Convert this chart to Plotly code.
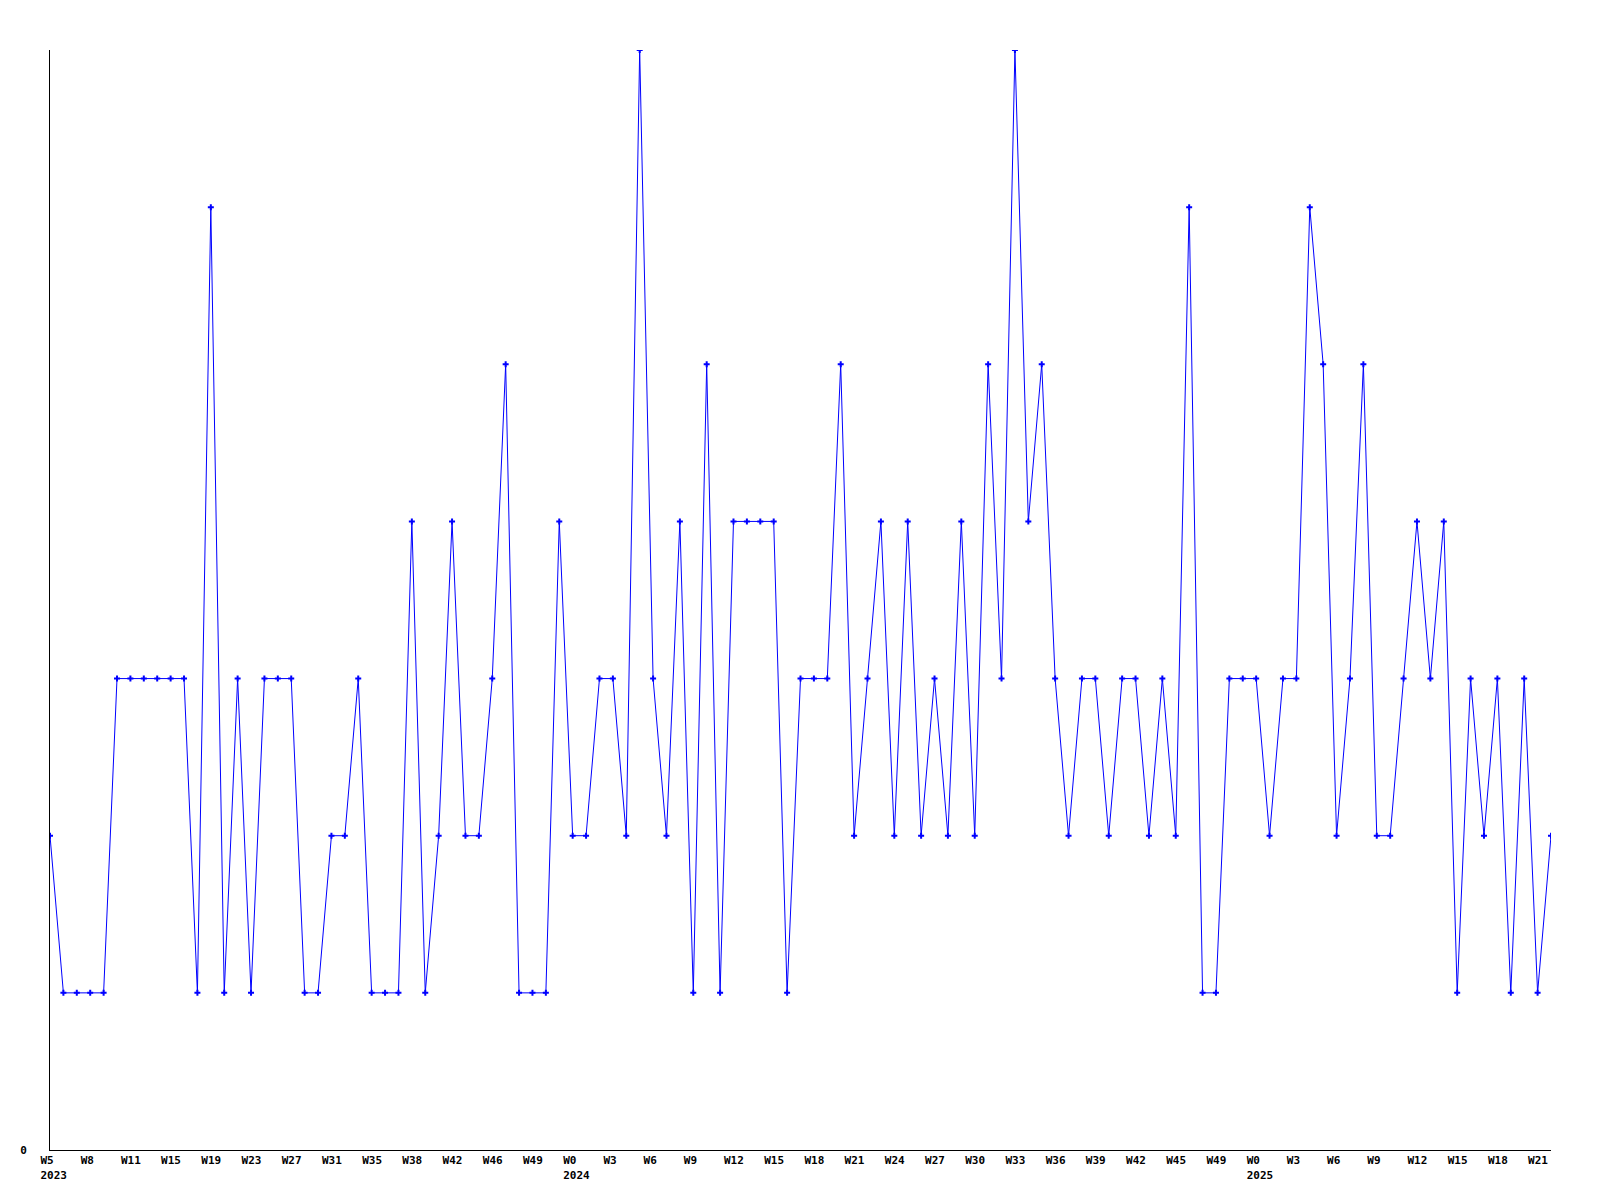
import plotly.graph_objects as go

# Series values (one point per period)
values = [2,1,1,1,1,3,3,3,3,3,
          3,1,6,1,3,1,3,3,3,1,
          1,2,2,3,1,1,1,4,1,2,
          4,2,2,3,5,1,1,1,4,2,
          2,3,3,2,7,3,2,4,1,5,
          1,4,4,4,4,1,3,3,3,5,
          2,3,4,2,4,2,3,2,4,2,
          5,3,7,4,5,3,2,3,3,2,
          3,3,2,3,2,6,1,1,3,3,
          3,2,3,3,6,5,2,3,5,2,
          2,3,4,3,4,1,3,2,3,1,
          3,1,2]
points = list(range(len(values)))

# Tick labels, one every 3 points
week_labels = ["W5","W8","W11","W15","W19","W23","W27","W31","W35","W38","W42","W46","W49",
               "W0","W3","W6","W9","W12","W15","W18","W21","W24","W27","W30","W33","W36",
               "W39","W42","W45","W49","W0","W3","W6","W9","W12","W15","W18","W21"]
year_labels = {0: "2023", 13: "2024", 30: "2025"}
tick_step = 3

tickvals = [i * tick_step for i in range(len(week_labels))]
ticktext = [lab + ("<br>" + year_labels[i] if i in year_labels else "")
            for i, lab in enumerate(week_labels)]

font_family = "DejaVu Sans Mono"

fig = go.Figure()
fig.add_trace(go.Scatter(
    x=points, y=values, mode="lines+markers",
    line=dict(color="#0000FF", width=1),
    marker=dict(symbol="cross", size=5, color="#0000FF"),
    showlegend=False, hoverinfo="skip",
))

fig.update_layout(
    width=1600, height=1200,
    margin=dict(l=42, r=57, t=42, b=58),
    plot_bgcolor="white", paper_bgcolor="white",
    font=dict(family=font_family, size=11, color="black"),
)
fig.update_xaxes(
    range=[0, len(values) - 1],
    tickmode="array", tickvals=tickvals, ticktext=ticktext,
    ticklabelposition="outside right", ticklabelshift=-10,
    ticks="", showgrid=False, zeroline=False,
    showline=True, linecolor="black", linewidth=1,
    tickfont=dict(family=font_family, size=11, color="black", weight="bold"),
)
fig.update_yaxes(
    range=[0, max(values)],
    tickmode="array", tickvals=[0], ticktext=["0"],
    ticks="", ticklabelstandoff=20, showgrid=False, zeroline=False,
    showline=True, linecolor="black", linewidth=1,
    tickfont=dict(family=font_family, size=11, color="black", weight="bold"),
)

fig.write_html("out.html")
